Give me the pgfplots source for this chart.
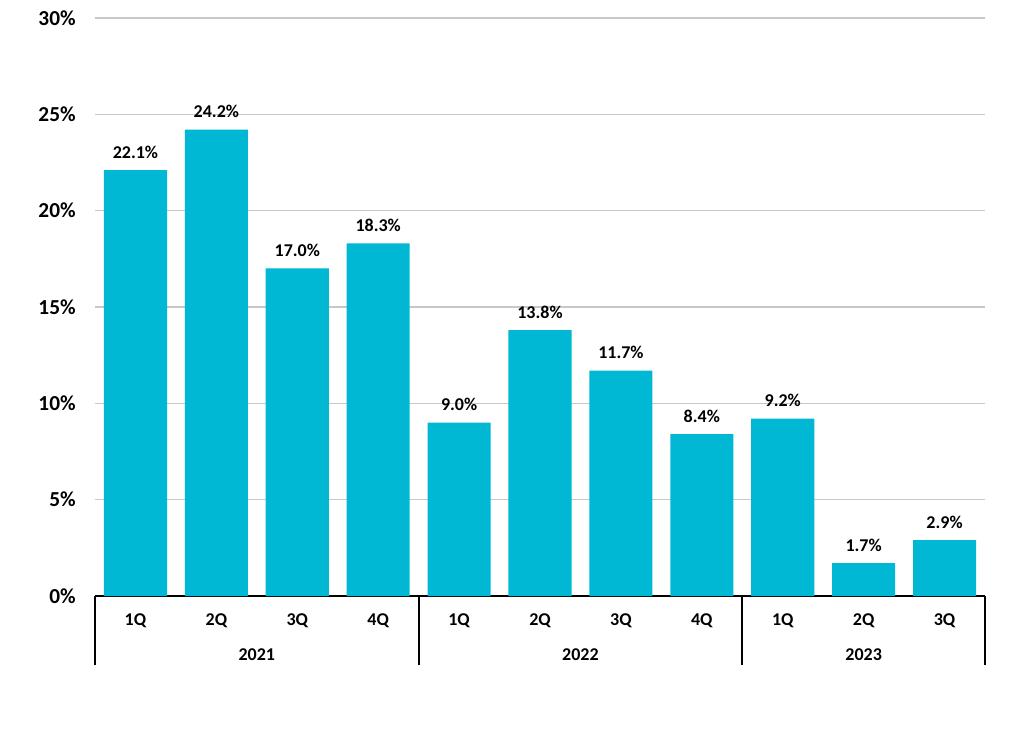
\documentclass[border=0pt]{standalone}
\usepackage{fontspec}
\setmainfont{Carlito}
\usepackage{pgfplots}
\pgfplotsset{compat=1.18}
\definecolor{barblue}{RGB}{0,184,212}
\definecolor{gridgray}{RGB}{200,200,200}
\begin{document}
\begin{tikzpicture}
\useasboundingbox (0,0) rectangle (768pt,557.25pt);
\begin{axis}[
  at={(71.25pt,110.25pt)}, anchor=south west,
  scale only axis,
  width=667.5pt, height=433.5pt,
  ybar, bar width=0.78,
  xmin=-0.5, xmax=10.5,
  ymin=0, ymax=30,
  clip=false,
  axis lines*=left,
  y axis line style={draw=none},
  x axis line style={black, line width=1.5pt},
  ytick={0,5,...,30},
  yticklabel={\pgfmathprintnumber{\tick}\%},
  yticklabel style={font=\fontsize{16}{19}\selectfont\bfseries, anchor=east, xshift=-11pt},
  ymajorgrids,
  grid style={gridgray, line width=0.8pt},
  major tick length=0pt,
  xtick={0,...,10},
  xticklabels={1Q,2Q,3Q,4Q,1Q,2Q,3Q,4Q,1Q,2Q,3Q},
  xticklabel style={font=\fontsize{13.5}{16}\selectfont\bfseries, anchor=base, yshift=-21.75pt},
  /pgf/number format/assume math mode=true,
  nodes near coords={\pgfmathprintnumber[fixed,fixed zerofill,precision=1]{\pgfplotspointmeta}\%},
  nodes near coords style={font=\fontsize{13.5}{16}\selectfont\bfseries, anchor=base, yshift=9pt, black},
]
\addplot[fill=barblue, draw=none] coordinates {
  (0,22.1) (1,24.2) (2,17.0) (3,18.3)
  (4,9.0) (5,13.8) (6,11.7) (7,8.4)
  (8,9.2) (9,1.7) (10,2.9)
};
\pgfplotsinvokeforeach{-0.5,3.5,7.5,10.5}{
  \draw[black, line width=1.5pt] (axis cs:#1,0) -- ([yshift=-51.75pt]axis cs:#1,0);
}
\node[font=\fontsize{13.5}{16}\selectfont\bfseries, anchor=base] at ([yshift=-48pt]axis cs:1.5,0) {2021};
\node[font=\fontsize{13.5}{16}\selectfont\bfseries, anchor=base] at ([yshift=-48pt]axis cs:5.5,0) {2022};
\node[font=\fontsize{13.5}{16}\selectfont\bfseries, anchor=base] at ([yshift=-48pt]axis cs:9,0) {2023};
\end{axis}
\end{tikzpicture}
\end{document}
